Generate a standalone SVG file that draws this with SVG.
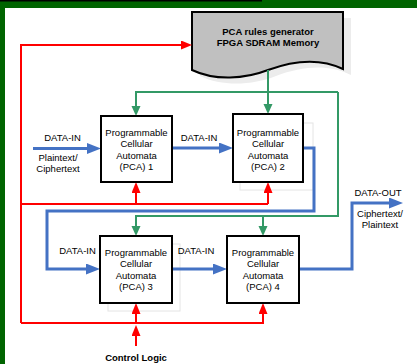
<svg xmlns="http://www.w3.org/2000/svg" width="417" height="364" viewBox="0 0 417 364">
<style>
text{font-family:"Liberation Sans",Arial,sans-serif;font-size:9.5px;fill:#000;text-anchor:middle}
.b{font-weight:bold}
.box{fill:#fff;stroke:#000;stroke-width:2}
.ghost{fill:#fff;stroke:#e4e4e4;stroke-width:1}
.r{fill:none;stroke:#ff0000;stroke-width:2}
.g{fill:none;stroke:#339966;stroke-width:2}
.bl{fill:none;stroke:#4472c4;stroke-width:3}
</style>
<defs>
<marker id="ar" markerUnits="userSpaceOnUse" markerWidth="12" markerHeight="10" refX="6" refY="4.5" orient="auto"><path d="M0,0 L11,4.5 L0,9 z" fill="#ff0000"/></marker>
<marker id="ag" markerUnits="userSpaceOnUse" markerWidth="11" markerHeight="10" refX="5" refY="4.5" orient="auto"><path d="M0,0 L10,4.5 L0,9 z" fill="#339966"/></marker>
<marker id="ab" markerUnits="userSpaceOnUse" markerWidth="15" markerHeight="12" refX="9" refY="5.5" orient="auto"><path d="M0,0 L14,5.5 L0,11 z" fill="#4472c4"/></marker>
</defs>
<rect x="0" y="0" width="417" height="364" fill="#fff"/>
<rect x="0" y="0" width="417" height="8" fill="#006400"/>
<rect x="0" y="0" width="5" height="364" fill="#006400"/>
<rect x="0" y="0" width="262" height="1.5" fill="#000"/>

<g id="memory">
<path d="M200,18 H351 V75 C328,64 303,66 276,76 C253,85 223,87 200,76 Z" fill="#ececec"/>
<path d="M192,12 H343 V69 C320,58 295,60 268,70 C245,79 215,81 192,70 Z" fill="#c0c0c0" stroke="#000" stroke-width="2"/>
<text class="b" x="268" y="34.5">PCA rules generator</text>
<text class="b" x="268" y="45.5">FPGA SDRAM Memory</text>
</g>

<g id="shadows">
<rect class="ghost" x="240" y="123" width="73" height="67"/>
<rect class="ghost" x="108" y="244" width="72" height="67"/>
</g>

<g id="connectors">
<path class="r" d="M21,323 V45 H187" marker-end="url(#ar)"/>
<path class="r" d="M21,204 H268"/>
<path class="r" d="M136,204 V187" marker-end="url(#ar)"/>
<path class="r" d="M268,204 V187" marker-end="url(#ar)"/>
<path class="r" d="M21,323 H263 V308" marker-end="url(#ar)"/>
<path class="r" d="M136,323 V308" marker-end="url(#ar)"/>
<path class="r" d="M136,346 V330" marker-end="url(#ar)"/>
<path class="g" d="M268,70 V109" marker-end="url(#ag)"/>
<path class="g" d="M338,92 H136 V111" marker-end="url(#ag)"/>
<path class="g" d="M338,92 V216 H136 V231" marker-end="url(#ag)"/>
<path class="g" d="M263,216 V231" marker-end="url(#ag)"/>
<path class="bl" d="M33,148.5 H96" marker-end="url(#ab)"/>
<path class="bl" d="M172,148 H228" marker-end="url(#ab)"/>
<path class="bl" d="M303,148 H314 V211 H47 V269 H95" marker-end="url(#ab)"/>
<path class="bl" d="M172,269 H222" marker-end="url(#ab)"/>
<path class="bl" d="M299,269 H352 V203 H398" marker-end="url(#ab)"/>
</g>

<g id="pca1">
<rect class="box" x="101" y="116" width="71" height="66"/>
<text x="136.5" y="135.5">Programmable</text>
<text x="136.5" y="147">Cellular</text>
<text x="136.5" y="158.5">Automata</text>
<text x="136.5" y="170">(PCA) 1</text>
</g>

<g id="pca2">
<rect class="box" x="233" y="114" width="70" height="68"/>
<text x="268" y="135.5">Programmable</text>
<text x="268" y="147">Cellular</text>
<text x="268" y="158.5">Automata</text>
<text x="268" y="170">(PCA) 2</text>
</g>

<g id="pca3">
<rect class="box" x="100" y="236" width="72" height="67"/>
<text x="136" y="255.5">Programmable</text>
<text x="136" y="267">Cellular</text>
<text x="136" y="278.5">Automata</text>
<text x="136" y="290">(PCA) 3</text>
</g>

<g id="pca4">
<rect class="box" x="227" y="236" width="72" height="67"/>
<text x="263" y="255.5">Programmable</text>
<text x="263" y="267">Cellular</text>
<text x="263" y="278.5">Automata</text>
<text x="263" y="290">(PCA) 4</text>
</g>

<g id="labels">
<text x="62.5" y="140.5">DATA-IN</text>
<text x="58" y="160.5">Plaintext/</text>
<text x="58" y="172">Ciphertext</text>
<text x="199" y="140.5">DATA-IN</text>
<text x="77.5" y="253.5">DATA-IN</text>
<text x="196" y="253.5">DATA-IN</text>
<text x="378" y="195.5">DATA-OUT</text>
<text x="380" y="216.5">Ciphertext/</text>
<text x="380" y="228">Plaintext</text>
<text class="b" x="136" y="361">Control Logic</text>
</g>
</svg>
